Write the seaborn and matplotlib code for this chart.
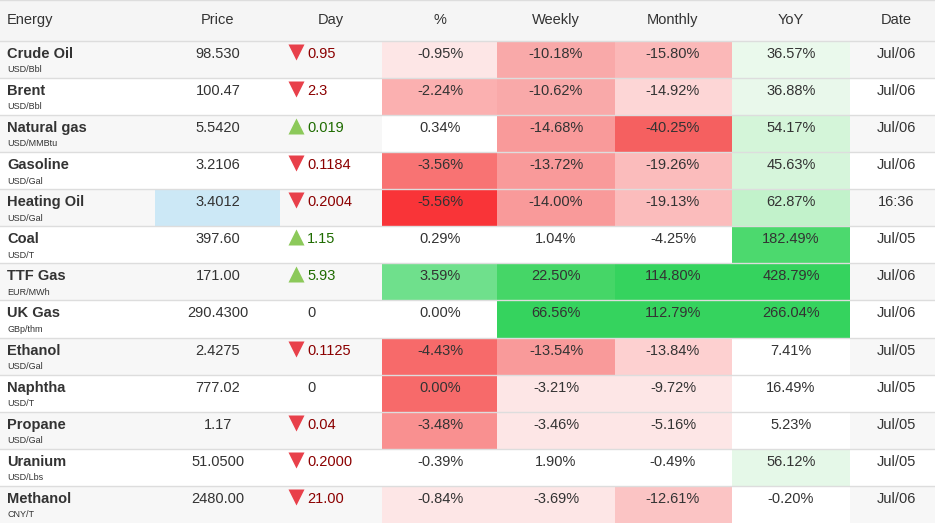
import numpy as np
import matplotlib
matplotlib.use("Agg")
import matplotlib.pyplot as plt
from matplotlib.colors import ListedColormap
import seaborn as sns

names = ["Crude Oil","Brent","Natural gas","Gasoline","Heating Oil","Coal","TTF Gas","UK Gas","Ethanol","Naphtha","Propane","Uranium","Methanol"]
units = ["USD/Bbl","USD/Bbl","USD/MMBtu","USD/Gal","USD/Gal","USD/T","EUR/MWh","GBp/thm","USD/Gal","USD/T","USD/Gal","USD/Lbs","CNY/T"]
price = ["98.530","100.47","5.5420","3.2106","3.4012","397.60","171.00","290.4300","2.4275","777.02","1.17","51.0500","2480.00"]
day = ["0.95","2.3","0.019","0.1184","0.2004","1.15","5.93","0","0.1125","0","0.04","0.2000","21.00"]
day_dir = [-1,-1,1,-1,-1,1,1,0,-1,0,-1,-1,-1]
pct = ["-0.95%","-2.24%","0.34%","-3.56%","-5.56%","0.29%","3.59%","0.00%","-4.43%","0.00%","-3.48%","-0.39%","-0.84%"]
weekly = ["-10.18%","-10.62%","-14.68%","-13.72%","-14.00%","1.04%","22.50%","66.56%","-13.54%","-3.21%","-3.46%","1.90%","-3.69%"]
monthly = ["-15.80%","-14.92%","-40.25%","-19.26%","-19.13%","-4.25%","114.80%","112.79%","-13.84%","-9.72%","-5.16%","-0.49%","-12.61%"]
yoy = ["36.57%","36.88%","54.17%","45.63%","62.87%","182.49%","428.79%","266.04%","7.41%","16.49%","5.23%","56.12%","-0.20%"]
date = ["Jul/06","Jul/06","Jul/06","Jul/06","16:36","Jul/05","Jul/06","Jul/06","Jul/05","Jul/05","Jul/05","Jul/05","Jul/06"]
headers = ["Energy","Price","Day","%","Weekly","Monthly","YoY","Date"]

pct_c = ["#fde6e6","#fbb0b0","#ffffff","#f87373","#f93438","#ffffff","#6fe08c","#ffffff","#f76a6a","#f76a6a","#f99090","#ffffff","#fde6e6"]
wk_c = ["#f9a9a9","#f9a9a9","#f99a9a","#f99a9a","#f99a9a","#ffffff","#45d667","#35d35e","#f99a9a","#fde6e6","#fde6e6","#ffffff","#fde6e6"]
mo_c = ["#fbb8b8","#fdd6d6","#f56060","#fbbcbc","#fbbcbc","#ffffff","#35d35e","#35d35e","#fdd0d0","#fde6e6","#fde6e6","#ffffff","#fbc4c4"]
yy_c = ["#eaf9ec","#e9f8eb","#d4f5d9","#d6f5db","#c2f2cb","#4cd96e","#35d35e","#35d35e","#ffffff","#ffffff","#ffffff","#e5f8e8","#ffffff"]

col_w = [155,125,102,115,118,117,118,85]

n = len(names)
cell_colors = [["#f5f5f5"] * 8]
for i in range(n):
    base = "#f7f7f7" if i % 2 == 0 else "#ffffff"
    pc = "#cce8f6" if names[i] == "Heating Oil" else base
    cell_colors.append([base, pc, base, pct_c[i], wk_c[i], mo_c[i], yy_c[i], base])

uniq = sorted(set(c for r in cell_colors for c in r))
idx = np.array([[uniq.index(c) for c in r] for r in cell_colors], dtype=float)
row_rep = [11] + [10] * n
mat = np.repeat(np.repeat(idx, col_w, axis=1), row_rep, axis=0)
H = sum(row_rep)
sc = 523 / H

plt.rcParams['font.family'] = ['Liberation Sans', 'DejaVu Sans']
fig = plt.figure(figsize=(9.35, 5.23), dpi=100)
ax = fig.add_axes([0, 0, 1, 1])
sns.heatmap(mat, cmap=ListedColormap(uniq), vmin=-0.5, vmax=len(uniq) - 0.5,
            cbar=False, xticklabels=False, yticklabels=False, ax=ax, rasterized=True)
ax.set_xlim(0, 935); ax.set_ylim(H, 0)

def yp(px):
    return px / sc

ytops = np.concatenate([[0], np.cumsum(row_rep)])
for y in ytops[1:-1]:
    ax.axhline(y, color="#dddddd", lw=1)
ax.axhline(0.1, color="#dddddd", lw=1)

tc = "#333333"
fs = 10.5
hy = ytops[0] + row_rep[0] / 2
ax.text(7, hy, headers[0], ha="left", va="center", fontsize=fs, color=tc)
hx = [None, 218, 331, 440, 556, 673, 791, 896]
for j in range(1, 8):
    ax.text(hx[j], hy, headers[j], ha="center", va="center", fontsize=fs, color=tc)

for i in range(n):
    top = ytops[i + 1]
    ymain = top + yp(13)
    ax.text(7, ymain, names[i], ha="left", va="center", fontsize=fs, fontweight="bold", color=tc)
    ax.text(7, top + yp(29), units[i], ha="left", va="center", fontsize=6.5, color=tc)
    ax.text(218, ymain, price[i], ha="center", va="center", fontsize=fs, color=tc)
    if day_dir[i] < 0:
        ax.plot(296, top + yp(11), marker="v", color="#e8404a", ms=11, mec="none")
        dc = "#8b0000"
    elif day_dir[i] > 0:
        ax.plot(296, top + yp(11), marker="^", color="#8cc95a", ms=11, mec="none")
        dc = "#1e6b00"
    else:
        dc = tc
    ax.text(307, ymain, day[i], ha="left", va="center", fontsize=fs, color=dc)
    for j, arr in zip([3, 4, 5, 6], [pct, weekly, monthly, yoy]):
        ax.text(hx[j], ymain, arr[i], ha="center", va="center", fontsize=fs, color=tc)
    ax.text(896, ymain, date[i], ha="center", va="center", fontsize=fs, color=tc)

ax.axis("off")
fig.savefig("out.png", dpi=100)
